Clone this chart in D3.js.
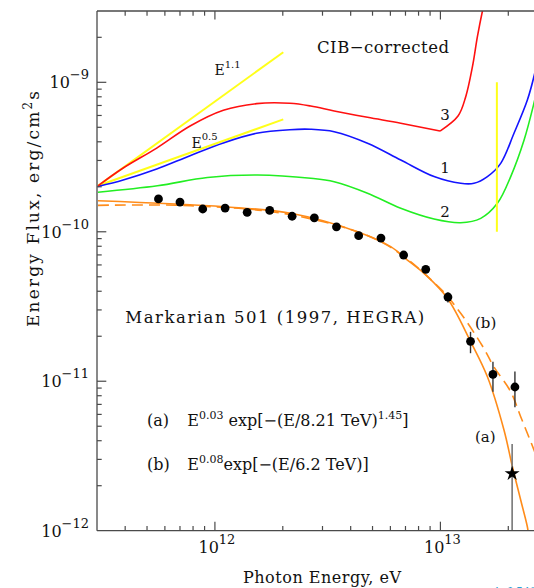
<!DOCTYPE html>
<html>
<head>
<meta charset="utf-8">
<script src="https://cdn.jsdelivr.net/npm/d3@7"></script>
<style>
body { margin: 0; background: #fff; }
text { font-family: 'DejaVu Serif', serif; fill: #111; }
</style>
</head>
<body>
<svg id="chart" width="534" height="588"></svg>
<script>

// HEGRA points (energy in eV, energy flux in erg/cm2 s)
var pointE = [5.62e11, 7.00e11, 8.83e11, 1.11e12, 1.39e12, 1.75e12, 2.20e12, 2.76e12, 3.46e12,
	4.34e12, 5.45e12, 6.87e12, 8.61e12, 1.08e13, 1.36e13, 1.71e13, 2.14e13];
var pointF = [1.66e-10, 1.58e-10, 1.42e-10, 1.44e-10, 1.35e-10, 1.39e-10, 1.27e-10, 1.24e-10, 1.08e-10,
	9.41e-11, 9.08e-11, 6.99e-11, 5.61e-11, 3.66e-11, 1.85e-11, 1.11e-11, 9.15e-12];

// error bars on the last points
var errE  = [1.08e13, 1.36e13, 1.71e13, 2.14e13];
var errLo = [3.37e-11, 1.54e-11, 8.51e-12, 6.69e-12];
var errHi = [3.94e-11, 2.14e-11, 1.35e-11, 1.16e-11];

// the star (upper bin)
var starE = [2.08e13];
var starF = [2.41e-12];
var starLo = [5e-13];
var starHi = [3.80e-12];

// CIB-corrected spectra
var curve3a = [[3.03e11, 2.03e-10], [3.92e11, 2.67e-10], [5.52e11, 3.63e-10], [7.76e11, 5.10e-10],
	[1.09e12, 6.50e-10], [1.53e12, 7.20e-10], [2.15e12, 7.24e-10], [2.66e12, 6.94e-10],
	[3.38e12, 6.43e-10], [4.75e12, 5.83e-10], [6.67e12, 5.32e-10], [9.96e12, 4.72e-10]];
var curve3b = [[9.96e12, 4.72e-10], [1.197e13, 5.95e-10], [1.295e13, 8.01e-10], [1.387e13, 1.272e-9],
	[1.459e13, 2.02e-9], [1.536e13, 3.0e-9], [1.58e13, 3.6e-9]];
var curve1 = [[3.03e11, 2.01e-10], [3.92e11, 2.22e-10], [5.52e11, 2.63e-10], [7.76e11, 3.23e-10],
	[1.09e12, 3.93e-10], [1.53e12, 4.56e-10], [2.15e12, 4.82e-10], [2.66e12, 4.85e-10],
	[3.38e12, 4.67e-10], [4.75e12, 3.91e-10], [6.67e12, 3.02e-10], [9.37e12, 2.34e-10],
	[1.23e13, 2.11e-10], [1.409e13, 2.11e-10], [1.616e13, 2.34e-10], [1.851e13, 2.87e-10],
	[2.12e13, 4.56e-10], [2.43e13, 7.61e-10], [2.62e13, 1.149e-9], [2.78e13, 1.78e-9]];
var curve2 = [[3.03e11, 1.84e-10], [5.56e11, 2.03e-10], [9.26e11, 2.31e-10], [1.543e12, 2.40e-10],
	[2.66e12, 2.28e-10], [3.38e12, 2.16e-10], [4.75e12, 1.81e-10], [6.67e12, 1.436e-10],
	[9.37e12, 1.217e-10], [1.23e13, 1.150e-10], [1.51e13, 1.230e-10], [1.789e13, 1.55e-10],
	[2.05e13, 2.34e-10], [2.35e13, 4.11e-10], [2.62e13, 7.61e-10], [2.78e13, 1.12e-9]];

// power-law guides and the cutoff marker
var slope11 = [[3.03e11, 2.03e-10], [2.01e12, 1.59e-9]];
var slope05 = [[3.03e11, 2.03e-10], [2.01e12, 5.65e-10]];
var cutLine = [[1.78e13, 1.0e-9], [1.78e13, 1.0e-10]];

// fits (a) and (b)
var fitA = [[3.03e11, 1.614e-10], [1.10e12, 1.472e-10], [2.17e12, 1.329e-10], [4.28e12, 1.001e-10],
	[6.02e12, 7.95e-11], [7.14e12, 6.47e-11], [8.61e12, 5.14e-11], [1.074e13, 3.59e-11],
	[1.362e13, 1.84e-11], [1.616e13, 1.072e-11], [1.914e13, 4.72e-12], [2.086e13, 2.68e-12],
	[2.27e13, 1.605e-12], [2.43e13, 1.063e-12], [2.46e13, 9.36e-13]];
var fitB = [[3.03e11, 1.503e-10], [7.81e11, 1.494e-10], [2.17e12, 1.30e-10], [5.44e12, 8.58e-11],
	[9.86e12, 4.25e-11], [1.23e13, 2.85e-11], [1.536e13, 1.72e-11], [1.729e13, 1.245e-11],
	[2.05e13, 8.51e-12], [2.27e13, 5.79e-12], [2.60e13, 3.47e-12], [2.79e13, 2.63e-12]];

var svg = d3.select('#chart');
var g = svg.append('g');

var padL = 97, padR = 548, padT = 11, padB = 530.7;

var x = d3.scaleLog().domain([3e11, 3e13]).range([padL, padR]);
var y = d3.scaleLog().domain([1e-12, 3e-9]).range([padB, padT]);

var axisColor = '#4a4a4a';

svg.append('clipPath')
	.attr('id', 'plotclip')
	.append('rect')
	.attr('x', padL)
	.attr('y', padT)
	.attr('width', padR - padL)
	.attr('height', padB - padT);

function isMajor(d) {
	var l = Math.log10(d);
	return Math.abs(l - Math.round(l)) < 1e-6;
}

function drawAxes() {

	// frame lines
	g.append('line')
		.attr('x1', padL).attr('y1', padB)
		.attr('x2', padR).attr('y2', padB)
		.attr('stroke', axisColor)
		.attr('stroke-width', 1.3);

	g.append('line')
		.attr('x1', padL).attr('y1', padT)
		.attr('x2', padR).attr('y2', padT)
		.attr('stroke', axisColor)
		.attr('stroke-width', 1.3);

	g.append('line')
		.attr('x1', padL).attr('y1', padT)
		.attr('x2', padL).attr('y2', padB)
		.attr('stroke', axisColor)
		.attr('stroke-width', 1.3);

	var xt = x.ticks().filter(function(d) { return x(d) > padL + 1; });
	var yt = y.ticks().filter(function(d) { return y(d) < padB - 1 && y(d) > padT + 1; });

	// bottom ticks, pointing up
	g.selectAll('.xtickb')
		.data(xt)
		.enter().append('line')
		.attr('x1', function(d) { return x(d); })
		.attr('x2', function(d) { return x(d); })
		.attr('y1', padB)
		.attr('y2', function(d) { return padB - (isMajor(d) ? 9 : 4.7); })
		.attr('stroke', axisColor)
		.attr('stroke-width', 1.2);

	// top ticks, pointing down
	g.selectAll('.xtickt')
		.data(xt)
		.enter().append('line')
		.attr('x1', function(d) { return x(d); })
		.attr('x2', function(d) { return x(d); })
		.attr('y1', padT)
		.attr('y2', function(d) { return padT + (isMajor(d) ? 8.5 : 4.7); })
		.attr('stroke', axisColor)
		.attr('stroke-width', 1.2);

	// left ticks
	g.selectAll('.ytick')
		.data(yt)
		.enter().append('line')
		.attr('x1', padL)
		.attr('x2', function(d) { return padL + (isMajor(d) ? 9.3 : 4.7); })
		.attr('y1', function(d) { return y(d); })
		.attr('y2', function(d) { return y(d); })
		.attr('stroke', axisColor)
		.attr('stroke-width', 1.2);

	// y labels 10^n
	var ylab = g.selectAll('.ylab')
		.data(y.ticks().filter(isMajor))
		.enter().append('text')
		.attr('x', 89)
		.attr('y', function(d) { return y(d) + 6; })
		.attr('text-anchor', 'end')
		.style('font-size', '16px');
	ylab.append('tspan').text('10');
	ylab.append('tspan')
		.attr('dy', -9)
		.style('font-size', '13px')
		.text(function(d) { return '\u2212' + Math.abs(Math.round(Math.log10(d))); });

	// x labels 10^n
	var xlab = g.selectAll('.xlab')
		.data(x.ticks().filter(isMajor))
		.enter().append('text')
		.attr('x', function(d) { return x(d) + 2; })
		.attr('y', 553)
		.attr('text-anchor', 'middle')
		.style('font-size', '16px');
	xlab.append('tspan').text('10');
	xlab.append('tspan')
		.attr('dy', -9)
		.style('font-size', '13px')
		.text(function(d) { return Math.round(Math.log10(d)); });

	// axis titles
	g.append('text')
		.attr('x', 322)
		.attr('y', 583)
		.attr('text-anchor', 'middle')
		.attr('textLength', 158)
		.style('font-size', '16px')
		.text('Photon Energy, eV');

	var yt2 = g.append('text')
		.attr('transform', 'translate(39,209) rotate(-90)')
		.attr('text-anchor', 'middle')
		.attr('textLength', 236)
		.style('font-size', '17px');
	yt2.append('tspan').text('Energy Flux, erg/cm');
	yt2.append('tspan').attr('dy', -7).style('font-size', '12px').text('2');
	yt2.append('tspan').attr('dy', 7).text('s');
}

function drawCurves() {

	var cg = g.append('g').attr('clip-path', 'url(#plotclip)');

	var line = d3.line()
		.x(function(d) { return x(d[0]); })
		.y(function(d) { return y(d[1]); })
		.curve(d3.curveCatmullRom.alpha(0.5));

	var straight = d3.line()
		.x(function(d) { return x(d[0]); })
		.y(function(d) { return y(d[1]); });

	cg.append('path').datum(slope11)
		.attr('d', straight)
		.attr('fill', 'none')
		.attr('stroke', '#ffff1a')
		.attr('stroke-width', 2);

	cg.append('path').datum(slope05)
		.attr('d', straight)
		.attr('fill', 'none')
		.attr('stroke', '#ffff1a')
		.attr('stroke-width', 2);

	cg.append('path').datum(curve2)
		.attr('d', line)
		.attr('fill', 'none')
		.attr('stroke', '#22ee22')
		.attr('stroke-width', 1.6);

	cg.append('path').datum(curve1)
		.attr('d', line)
		.attr('fill', 'none')
		.attr('stroke', '#1414ff')
		.attr('stroke-width', 1.6);

	cg.append('path').datum(curve3a)
		.attr('d', line)
		.attr('fill', 'none')
		.attr('stroke', '#ff1010')
		.attr('stroke-width', 1.6);

	cg.append('path').datum(curve3b)
		.attr('d', line)
		.attr('fill', 'none')
		.attr('stroke', '#ff1010')
		.attr('stroke-width', 1.6);

	cg.append('path').datum(cutLine)
		.attr('d', straight)
		.attr('fill', 'none')
		.attr('stroke', '#ffff1a')
		.attr('stroke-width', 2);

	cg.append('path').datum(fitB)
		.attr('d', line)
		.attr('fill', 'none')
		.attr('stroke', '#ff8c1a')
		.attr('stroke-width', 1.6)
		.style('stroke-dasharray', '11,6');

	cg.append('path').datum(fitA)
		.attr('d', line)
		.attr('fill', 'none')
		.attr('stroke', '#ff8c1a')
		.attr('stroke-width', 1.6);
}

function drawPoints() {

	var pg = g.append('g').attr('clip-path', 'url(#plotclip)');

	pg.selectAll('.err')
		.data(errE)
		.enter().append('line')
		.attr('x1', function(d) { return x(d); })
		.attr('x2', function(d) { return x(d); })
		.attr('y1', function(d, i) { return y(errLo[i]); })
		.attr('y2', function(d, i) { return y(errHi[i]); })
		.attr('stroke', '#333')
		.attr('stroke-width', 1.4);

	pg.selectAll('.starerr')
		.data(starE)
		.enter().append('line')
		.attr('x1', function(d) { return x(d); })
		.attr('x2', function(d) { return x(d); })
		.attr('y1', function(d, i) { return y(starLo[i]); })
		.attr('y2', function(d, i) { return y(starHi[i]); })
		.attr('stroke', '#777')
		.attr('stroke-width', 1.6);

	pg.selectAll('.pt')
		.data(pointE)
		.enter().append('circle')
		.attr('cx', function(d) { return x(d); })
		.attr('cy', function(d, i) { return y(pointF[i]); })
		.attr('r', 4.4)
		.style('fill', '#000');

	pg.selectAll('.star')
		.data(starE)
		.enter().append('path')
		.attr('transform', function(d, i) { return 'translate(' + x(d) + ',' + y(starF[i]) + ')'; })
		.attr('d', d3.symbol().type(d3.symbolStar).size(70))
		.style('fill', '#000');
}

function drawLabels() {

	g.append('text')
		.attr('x', 317)
		.attr('y', 52.7)
		.attr('textLength', 132)
		.style('font-size', '16.5px')
		.text('CIB\u2212corrected');

	var nums = [['3', 120], ['1', 172.7], ['2', 217.3]];
	g.selectAll('.num')
		.data(nums)
		.enter().append('text')
		.attr('x', 445)
		.attr('y', function(d) { return d[1]; })
		.attr('text-anchor', 'middle')
		.style('font-size', '15px')
		.text(function(d) { return d[0]; });

	var e11 = g.append('text')
		.attr('x', 214.5)
		.attr('y', 75)
		.style('font-size', '14px');
	e11.append('tspan').text('E');
	e11.append('tspan').attr('dy', -7).style('font-size', '10px').text('1.1');

	var e05 = g.append('text')
		.attr('x', 191.5)
		.attr('y', 147.7)
		.style('font-size', '14px');
	e05.append('tspan').text('E');
	e05.append('tspan').attr('dy', -8).style('font-size', '10px').text('0.5');

	g.append('text')
		.attr('x', 125.3)
		.attr('y', 323.3)
		.attr('textLength', 299)
		.style('font-size', '16.5px')
		.text('Markarian 501 (1997, HEGRA)');

	g.append('text')
		.attr('x', 475)
		.attr('y', 328)
		.style('font-size', '15px')
		.text('(b)');

	g.append('text')
		.attr('x', 475)
		.attr('y', 442)
		.style('font-size', '15px')
		.text('(a)');

	// fit formulas
	g.append('text')
		.attr('x', 147)
		.attr('y', 426)
		.style('font-size', '16px')
		.text('(a)');

	var la = g.append('text')
		.attr('x', 187.3)
		.attr('y', 426)
		.style('font-size', '16px');
	la.append('tspan').text('E');
	la.append('tspan').attr('dy', -7).style('font-size', '11px').text('0.03');
	la.append('tspan').attr('dy', 7).text(' exp[\u2212(E/8.21 TeV)');
	la.append('tspan').attr('dy', -7).style('font-size', '11px').text('1.45');
	la.append('tspan').attr('dy', 7).text(']');

	g.append('text')
		.attr('x', 147)
		.attr('y', 470)
		.style('font-size', '16px')
		.text('(b)');

	var lb = g.append('text')
		.attr('x', 187.3)
		.attr('y', 470)
		.style('font-size', '16px');
	lb.append('tspan').text('E');
	lb.append('tspan').attr('dy', -7).style('font-size', '11px').text('0.08');
	lb.append('tspan').attr('dy', 7).text('exp[\u2212(E/6.2 TeV)]');

	// cropped caption fragment at the bottom edge
	g.append('text')
		.attr('x', 493)
		.attr('y', 595)
		.style('font-size', '11px')
		.style('fill', '#2a9fd3')
		.text('ApJ 549');
}

drawCurves();
drawPoints();
drawAxes();
drawLabels();

</script>
</body>
</html>
